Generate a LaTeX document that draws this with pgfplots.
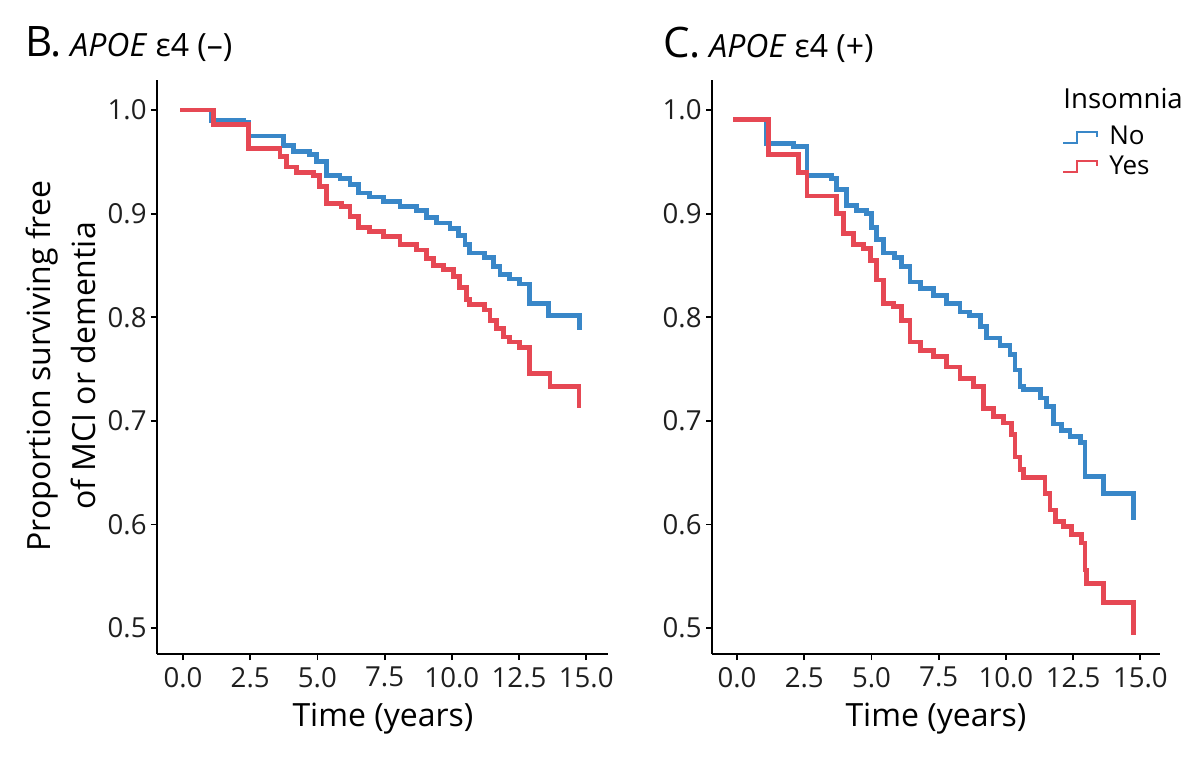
\documentclass[border=0pt]{standalone}
\usepackage{fontspec}
\setmainfont{Open Sans}
\usepackage{pgfplots}
\pgfplotsset{compat=1.18}

\definecolor{kmblue}{RGB}{57,135,200}
\definecolor{kmred}{RGB}{230,72,84}

\pgfplotsset{
  kmaxis/.style={
    scale only axis,
    height=287pt,
    axis lines*=left,
    axis line style={black, line width=0.9pt},
    tick align=outside,
    major tick length=3pt,
    tick style={black, line width=0.9pt},
    ymin=0.4749, ymax=1.029,
    xtick={0,2.5,5,7.5,10,12.5,15},
    ytick={0.5,0.6,0.7,0.8,0.9,1.0},
    tick label style={font=\fontsize{13.8}{16}\selectfont, text=black!88,
      /pgf/number format/assume math mode=true,
      /pgf/number format/fixed,
      /pgf/number format/fixed zerofill,
      /pgf/number format/precision=1},
    yticklabel style={inner xsep=2pt},
  },
  km/.style={const plot, line width=2.4pt, line join=miter},
}

\begin{document}
\begin{tikzpicture}
\useasboundingbox (0pt,0pt) rectangle (600pt,-384pt);

% B. APOE e4 (-)
\begin{axis}[kmaxis, at={(78.5pt,-327pt)}, anchor=south west,
  width=225.5pt, xmin=-0.967, xmax=15.81]
\addplot[km, kmblue] coordinates {
(-0.11,1.000) (1.07,0.990) (2.25,0.988) (2.45,0.975) (3.73,0.966)
(4.10,0.960) (4.72,0.957) (4.97,0.950) (5.34,0.937) (5.84,0.934)
(6.21,0.928) (6.52,0.920) (6.95,0.916) (7.45,0.912) (8.07,0.907)
(8.69,0.903) (9.06,0.896) (9.43,0.891) (9.93,0.886) (10.24,0.879)
(10.49,0.870) (10.67,0.862) (11.23,0.858) (11.54,0.849) (11.79,0.841)
(12.16,0.837) (12.53,0.832) (12.90,0.813) (13.59,0.802) (14.76,0.788)
};
\addplot[km, kmred] coordinates {
(-0.11,1.000) (1.13,0.986) (2.45,0.963) (3.61,0.955) (3.86,0.945)
(4.23,0.940) (4.85,0.937) (5.09,0.926) (5.34,0.910) (5.90,0.907)
(6.21,0.897) (6.52,0.887) (6.95,0.883) (7.45,0.878) (8.07,0.870)
(8.69,0.865) (9.06,0.857) (9.31,0.850) (9.68,0.846) (10.05,0.839)
(10.30,0.829) (10.55,0.817) (10.67,0.812) (11.23,0.807) (11.42,0.797)
(11.67,0.789) (11.92,0.781) (12.16,0.776) (12.53,0.771) (12.90,0.746)
(13.65,0.733) (14.73,0.712)
};
\end{axis}

% C. APOE e4 (+)
\begin{axis}[kmaxis, at={(356pt,-327pt)}, anchor=south west,
  width=224pt, xmin=-0.93, xmax=15.73,
  legend image code/.code={
    \draw[#1, line width=1pt] (0pt,-2.75pt) -- (7pt,-2.75pt) -- (7pt,2.75pt)
      -- (17pt,2.75pt) -- (17pt,0.25pt);},
  legend style={at={(0.781,0.92)}, anchor=north west, draw=none, fill=none,
    inner sep=0pt, font=\fontsize{13}{15}\selectfont, row sep=4pt,
    column sep=5.5pt, nodes={inner sep=0pt}},
  legend cell align=left]
\addplot[km, kmblue] coordinates {
(-0.14,0.991) (1.10,0.968) (2.10,0.965) (2.60,0.937) (3.52,0.934)
(3.71,0.923) (4.08,0.908) (4.45,0.903) (4.82,0.900) (5.01,0.887)
(5.19,0.875) (5.44,0.862) (5.87,0.858) (6.12,0.849) (6.43,0.834)
(6.81,0.828) (7.30,0.821) (7.80,0.813) (8.29,0.805) (8.66,0.802)
(9.04,0.791) (9.28,0.780) (9.78,0.773) (10.15,0.764) (10.34,0.749)
(10.52,0.733) (10.65,0.730) (11.30,0.722) (11.52,0.714) (11.76,0.697)
(12.07,0.691) (12.38,0.685) (12.76,0.679) (12.94,0.646) (13.62,0.630)
(14.74,0.604)
};
\addlegendentry{No}
\addplot[km, kmred] coordinates {
(-0.14,0.991) (1.17,0.957) (2.30,0.940) (2.60,0.917) (3.71,0.900)
(3.95,0.881) (4.33,0.870) (4.70,0.866) (4.95,0.855) (5.19,0.836)
(5.44,0.813) (5.81,0.810) (6.12,0.797) (6.43,0.776) (6.81,0.768)
(7.30,0.762) (7.80,0.752) (8.29,0.741) (8.79,0.733) (9.16,0.712)
(9.53,0.704) (9.90,0.698) (10.21,0.687) (10.34,0.665) (10.52,0.653)
(10.65,0.645) (11.45,0.630) (11.64,0.614) (11.83,0.603) (12.14,0.598)
(12.45,0.590) (12.82,0.582) (12.94,0.556) (13.00,0.543) (13.62,0.525)
(14.74,0.493)
};
\addlegendentry{Yes}
\end{axis}

% titles and labels
\node[anchor=base west, inner sep=0pt] at (12.5pt,-28pt)
  {\fontsize{21}{25}\selectfont B.\fontsize{16}{19}\selectfont\ \textit{APOE} ε4 (–)};
\node[anchor=base west, inner sep=0pt] at (331.5pt,-28.5pt)
  {\fontsize{21}{25}\selectfont C.\fontsize{16}{19}\selectfont\ \textit{APOE} ε4 (+)};
\node[rotate=90, anchor=base, inner sep=0pt, font=\fontsize{16}{19}\selectfont]
  at (25pt,-183pt) {Proportion surviving free};
\node[rotate=90, anchor=base, inner sep=0pt, font=\fontsize{16}{19}\selectfont]
  at (47.5pt,-183pt) {of MCI or dementia};
\node[anchor=base, inner sep=0pt, font=\fontsize{16}{19}\selectfont]
  at (191.5pt,-363pt) {Time (years)};
\node[anchor=base, inner sep=0pt, font=\fontsize{16}{19}\selectfont]
  at (468pt,-363pt) {Time (years)};
\node[anchor=base west, inner sep=0pt, font=\fontsize{13.8}{16}\selectfont]
  at (531.5pt,-54pt) {Insomnia};
\end{tikzpicture}
\end{document}
